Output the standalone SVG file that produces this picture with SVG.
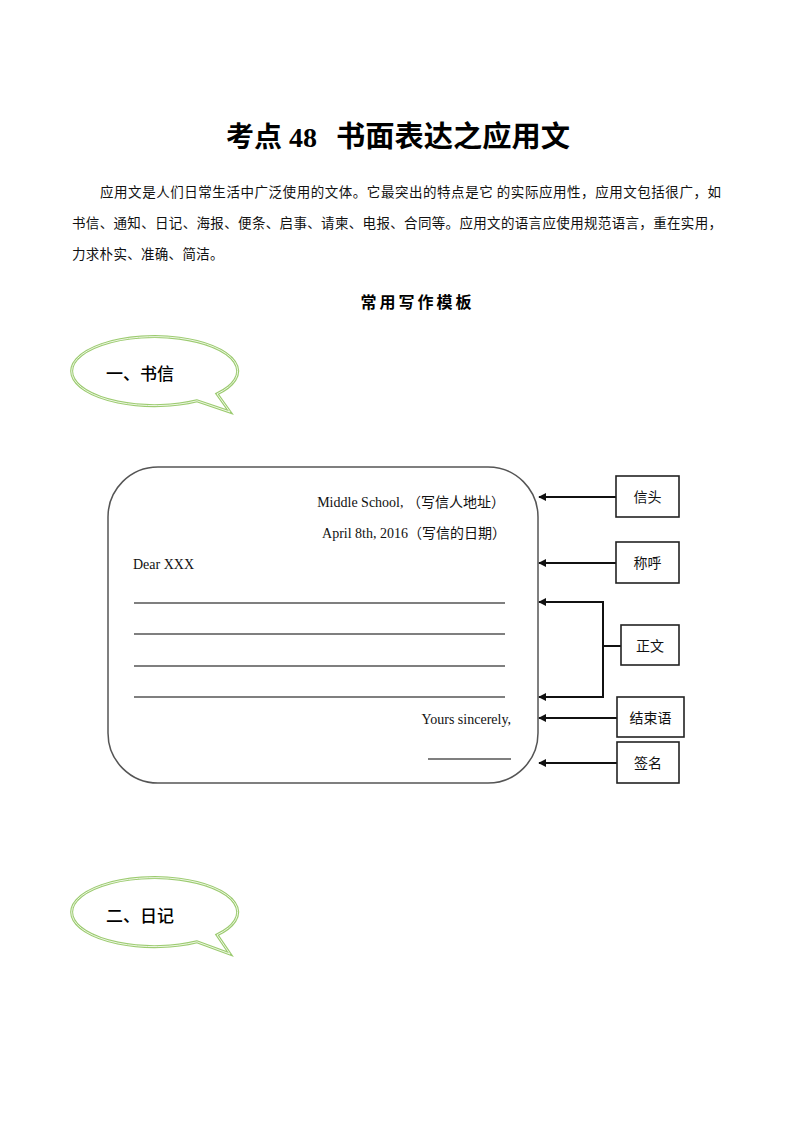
<svg xmlns="http://www.w3.org/2000/svg" width="794" height="1123" viewBox="0 0 794 1123">
<style>
.cjk{font-family:"Liberation Serif","Noto Sans CJK SC",sans-serif;fill:#000}
.body{font-family:"Noto Sans CJK SC",sans-serif;font-size:13.5px;fill:#111}
.lt{font-family:"Liberation Serif","Noto Sans CJK SC",serif;font-size:14px;fill:#111}
.lbl{font-family:"Noto Sans CJK SC",sans-serif;font-size:14px;fill:#111;text-anchor:middle}
.box{fill:#fff;stroke:#222;stroke-width:1.6}
.bub{fill:#fff;stroke:#9ccb70;stroke-width:3}
.bubin{fill:none;stroke:#eef7e4;stroke-width:1}
.btxt{font-family:"Noto Sans CJK SC",sans-serif;font-size:17px;font-weight:500;fill:#000}
.conn{fill:none;stroke:#111;stroke-width:2}
.rule{stroke:#000;stroke-width:1.1}
</style>
<defs>
<marker id="ah" viewBox="0 0 10 10" refX="9" refY="5" markerWidth="4" markerHeight="4" orient="auto-start-reverse" markerUnits="strokeWidth">
<path d="M0,0 L10,5 L0,10 Z" fill="#111"/>
</marker>
</defs>
<rect x="0" y="0" width="794" height="1123" fill="#fff"/>

<g id="title">
<text y="147" class="cjk" font-size="28" font-weight="bold"><tspan x="226">考点 48</tspan><tspan x="336" textLength="234" lengthAdjust="spacingAndGlyphs" font-size="29">书面表达之应用文</tspan></text>
</g>

<g id="intro">
<text x="100" y="197" class="body" textLength="621" lengthAdjust="spacing">应用文是人们日常生活中广泛使用的文体。它最突出的特点是它 的实际应用性，应用文包括很广，如</text>
<text x="72" y="228" class="body" textLength="650" lengthAdjust="spacing">书信、通知、日记、海报、便条、启事、请柬、电报、合同等。应用文的语言应使用规范语言，重在实用，</text>
<text x="72" y="259" class="body" letter-spacing="0.3">力求朴实、准确、简洁。</text>
</g>

<g id="subtitle">
<text x="416" y="308" class="cjk" font-size="16" font-weight="bold" text-anchor="middle" textLength="111" lengthAdjust="spacing">常用写作模板</text>
</g>

<g id="bubble1">
<path class="bub" d="M217,393.9 L230,412 L197,400.8 A83 34.5 0 1 1 217,393.9 Z"/>
<path class="bubin" d="M217,393.9 L230,412 L197,400.8 A83 34.5 0 1 1 217,393.9 Z"/>
<text x="106" y="380" class="btxt">一、书信</text>
</g>

<g id="letter">
<rect x="108" y="467" width="430" height="316" rx="50" ry="50" fill="#fff" stroke="#555" stroke-width="1.5"/>
<text x="505" y="507" class="lt" text-anchor="end">Middle School, （写信人地址）</text>
<text x="506" y="538" class="lt" text-anchor="end">April 8th, 2016（写信的日期）</text>
<text x="133" y="569" class="lt">Dear XXX</text>
<line class="rule" x1="134" y1="603" x2="505" y2="603"/>
<line class="rule" x1="134" y1="634" x2="505" y2="634"/>
<line class="rule" x1="134" y1="666" x2="505" y2="666"/>
<line class="rule" x1="134" y1="697" x2="505" y2="697"/>
<text x="511" y="724" class="lt" text-anchor="end">Yours sincerely,</text>
<line class="rule" x1="428" y1="759" x2="511" y2="759"/>
</g>

<g id="connectors">
<path class="conn" d="M616,497 L539,497" marker-end="url(#ah)"/>
<path class="conn" d="M616,563 L539,563" marker-end="url(#ah)"/>
<path class="conn" d="M621,646 L603,646"/>
<path class="conn" d="M603,698 L603,602 L539,602" marker-end="url(#ah)"/>
<path class="conn" d="M603,697 L539,697" marker-end="url(#ah)"/>
<path class="conn" d="M617,718 L539,718" marker-end="url(#ah)"/>
<path class="conn" d="M617,763 L539,763" marker-end="url(#ah)"/>
</g>

<g id="n-xintou">
<rect class="box" x="616" y="476" width="63" height="41"/>
<text x="647.5" y="502" class="lbl">信头</text>
</g>
<g id="n-chenghu">
<rect class="box" x="616" y="542" width="63" height="41"/>
<text x="647.5" y="568" class="lbl">称呼</text>
</g>
<g id="n-zhengwen">
<rect class="box" x="621" y="625" width="58" height="40"/>
<text x="650" y="651" class="lbl">正文</text>
</g>
<g id="n-jieshuyu">
<rect class="box" x="617" y="697" width="67" height="40"/>
<text x="650.5" y="723" class="lbl">结束语</text>
</g>
<g id="n-qianming">
<rect class="box" x="617" y="742" width="62" height="41"/>
<text x="648" y="768" class="lbl">签名</text>
</g>

<g id="bubble2">
<path class="bub" d="M217,934.9 L230,954 L197,941.8 A83 34.5 0 1 1 217,934.9 Z"/>
<path class="bubin" d="M217,934.9 L230,954 L197,941.8 A83 34.5 0 1 1 217,934.9 Z"/>
<text x="106" y="922" class="btxt">二、日记</text>
</g>
</svg>
